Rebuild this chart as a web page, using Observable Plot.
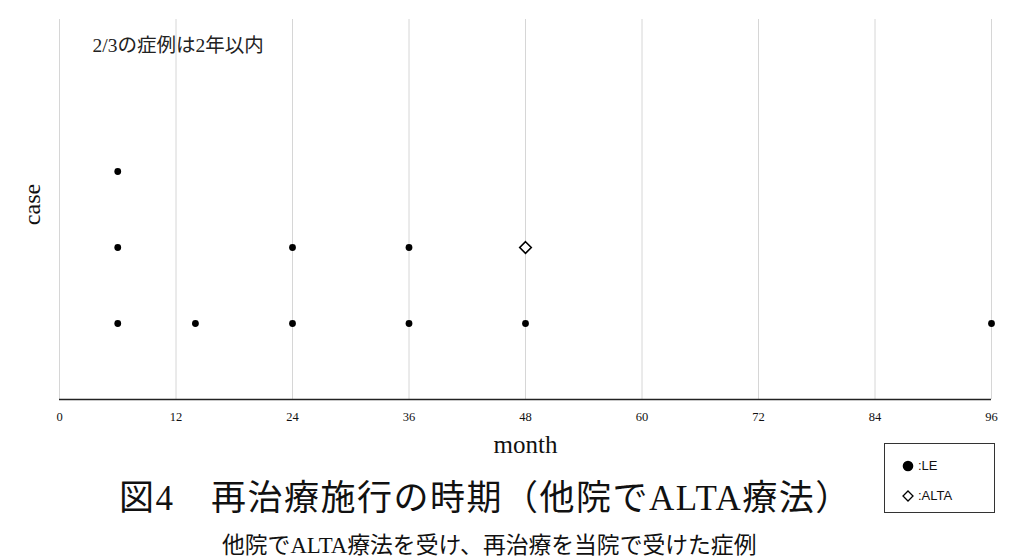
<!DOCTYPE html>
<html>
<head>
<meta charset="utf-8">
<script src="https://cdn.jsdelivr.net/npm/d3@7"></script>
<script src="https://cdn.jsdelivr.net/npm/@observablehq/plot@0.6"></script>
<style>
  html, body { margin: 0; padding: 0; background: #fff; width: 1024px; height: 560px; overflow: hidden; position: relative; }
  #chart { position: absolute; left: 0; top: 0; }
  .title { position: absolute; white-space: nowrap; line-height: 1; font-family: "Liberation Serif", "Noto Sans CJK JP", serif; color: #111; }
  #t1 { left: 119px; top: 481px; font-size: 35px; letter-spacing: 1.5px; }
  #t2 { left: 222px; top: 535px; font-size: 22.8px; }
  #legend { position: absolute; left: 884px; top: 443px; width: 111px; height: 70px; border: 1px solid #333; box-sizing: border-box; font-family: "Liberation Sans", Arial, sans-serif; font-size: 13px; color: #111; }
  .li { position: absolute; left: 16px; display: flex; align-items: center; gap: 3px; }
</style>
</head>
<body>
<div id="chart"></div>
<div class="title" id="t1"></div>
<div class="title" id="t2"></div>
<div id="legend"></div>
<script>
// Data
const leMonths = [6, 14, 24, 36, 48, 96, 6, 24, 36, 6];
const leCases  = [1, 1, 1, 1, 1, 1, 2, 2, 2, 3];
const altaMonths = [48];
const altaCases  = [2];
const xTicks = [0, 12, 24, 36, 48, 60, 72, 84, 96];
const seriesNames = [":LE", ":ALTA"];
const titleText = "図4　再治療施行の時期（他院でALTA療法）";
const subtitleText = "他院でALTA療法を受け、再治療を当院で受けた症例";
const noteText = "2/3の症例は2年以内";
const xLabel = "month";
const yLabel = "case";

const le = leMonths.map((m, i) => ({month: m, case: leCases[i]}));
const alta = altaMonths.map((m, i) => ({month: m, case: altaCases[i]}));

const serif = "Liberation Serif, Noto Sans CJK JP, serif";

const chart = Plot.plot({
  width: 1024,
  height: 460,
  marginLeft: 59,
  marginRight: 33,
  marginTop: 19,
  marginBottom: 61,
  style: {fontFamily: serif, background: "#fff", color: "#111"},
  x: {domain: [0, 96]},
  y: {domain: [0, 5], axis: null},
  marks: [
    Plot.gridX(xTicks, {stroke: "#d6d6d6", strokeOpacity: 1, strokeWidth: 1}),
    Plot.axisX(xTicks, {tickSize: 0, tickPadding: 13, fontSize: 12.5, fontFamily: serif, fill: "#111", label: null}),
    Plot.ruleY([0], {stroke: "#222", strokeWidth: 1.3}),
    Plot.dot(le, {x: "month", y: "case", r: 3.4, fill: "#000", stroke: "none"}),
    Plot.dot(alta, {x: "month", y: "case", symbol: "diamond2", r: 5.2, fill: "#fff", stroke: "#000", strokeWidth: 1.6}),
    Plot.text([noteText], {frameAnchor: "top-left", dx: 33, dy: 26, textAnchor: "start", lineAnchor: "middle", fontSize: 19.5, fill: "#222"}),
    Plot.text([xLabel], {frameAnchor: "bottom", dy: 45, lineAnchor: "middle", fontSize: 25, fill: "#111"}),
    Plot.text([yLabel], {frameAnchor: "left", dx: -27, dy: -5, rotate: -90, textAnchor: "middle", lineAnchor: "middle", fontSize: 24, fill: "#111"})
  ]
});
document.getElementById("chart").appendChild(chart);
document.getElementById("t1").textContent = titleText;
document.getElementById("t2").textContent = subtitleText;

const legend = document.getElementById("legend");
const sym = [
  '<svg width="14" height="14"><circle cx="7" cy="7" r="5.3" fill="#000"/></svg>',
  '<svg width="14" height="14"><path d="M7 2 L12 7 L7 12 L2 7 Z" fill="#fff" stroke="#000" stroke-width="1.3"/></svg>'
];
seriesNames.forEach((name, i) => {
  const d = document.createElement("div");
  d.className = "li";
  d.style.top = (i === 0 ? 14 : 44) + "px";
  d.innerHTML = sym[i] + "<span>" + name + "</span>";
  legend.appendChild(d);
});
</script>
</body>
</html>
